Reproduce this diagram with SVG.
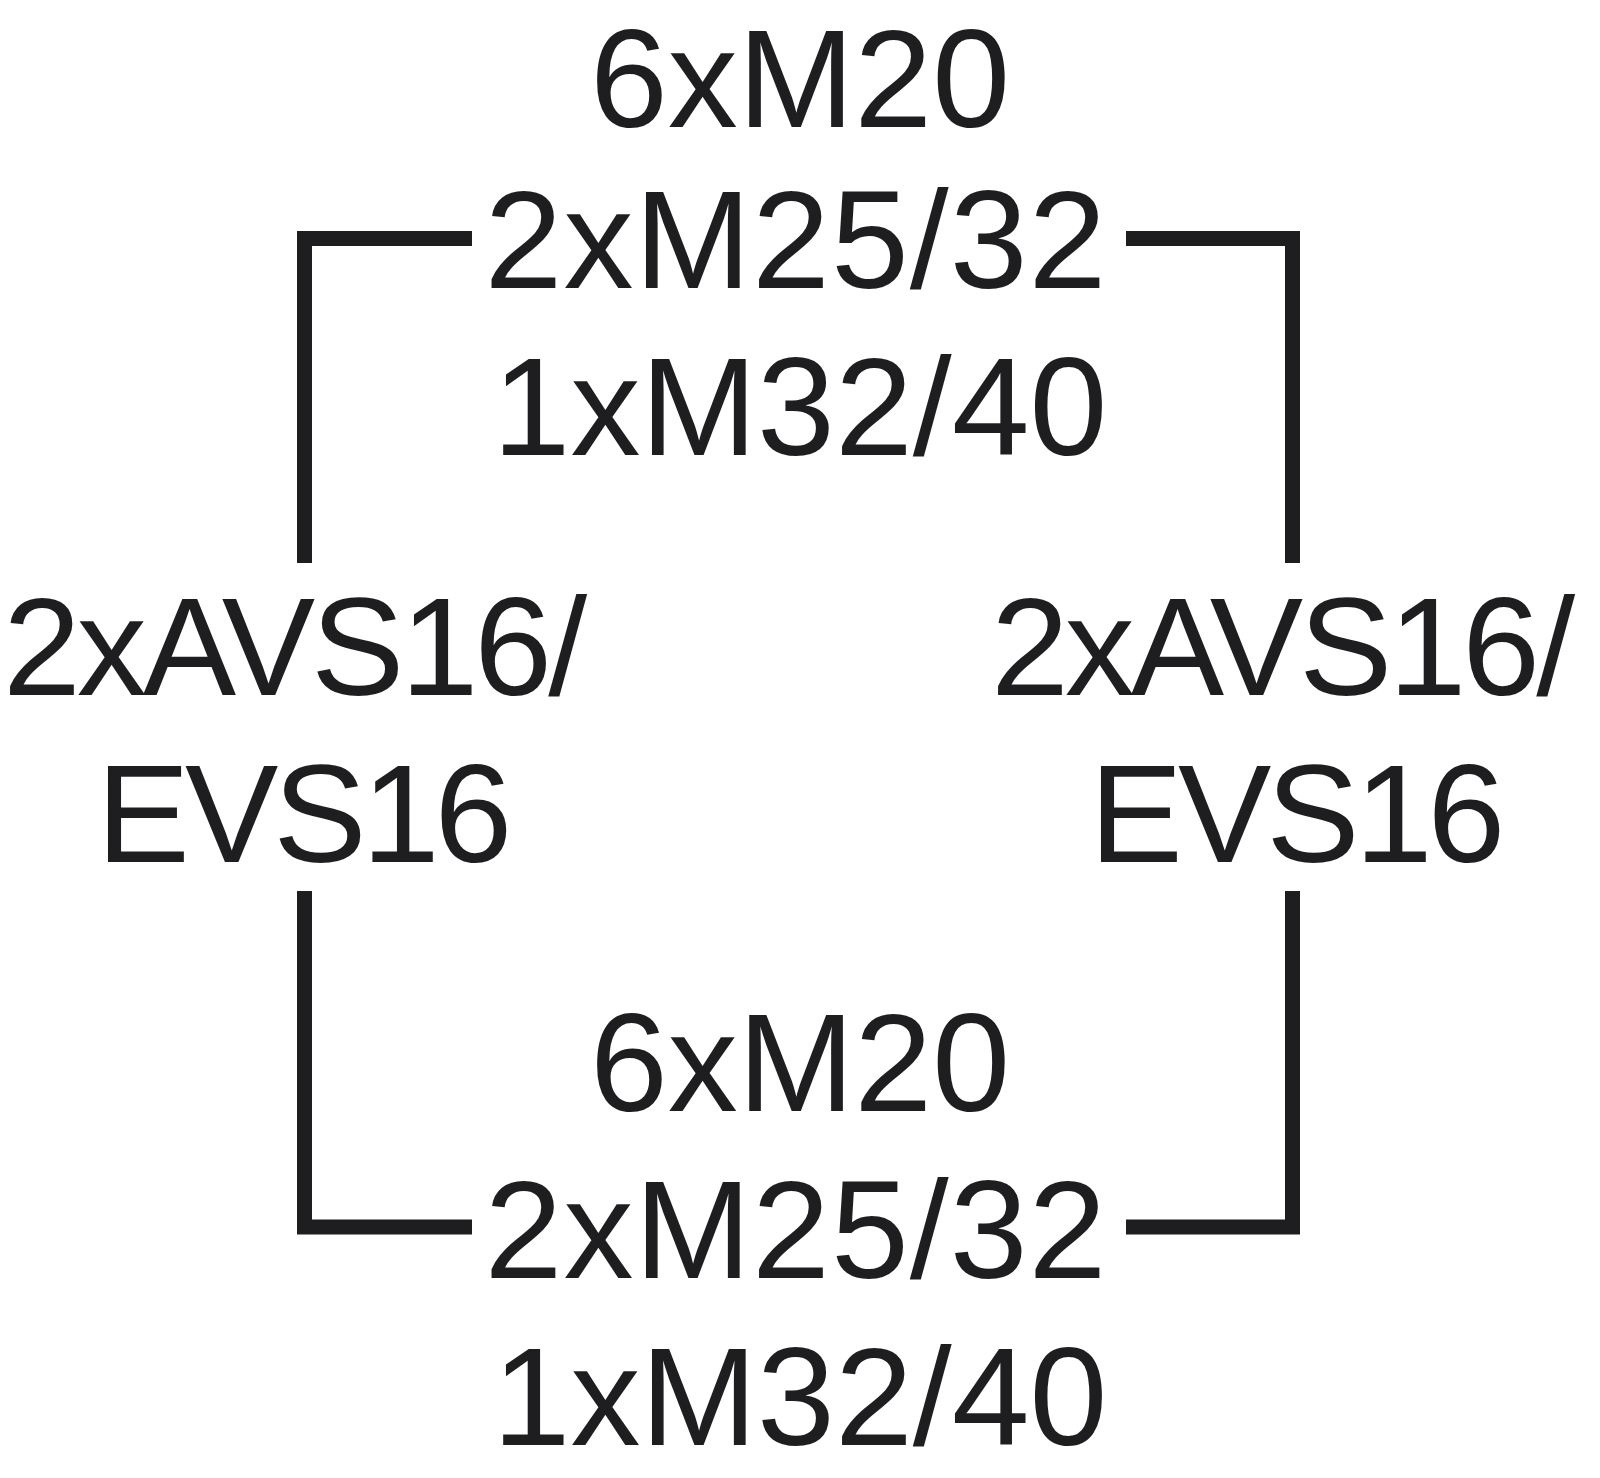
<svg xmlns="http://www.w3.org/2000/svg" width="1600" height="1478" viewBox="0 0 1600 1478">
<style>
.lbl{font-family:"Liberation Sans",Arial,Helvetica,sans-serif;font-size:140px;fill:#1e1e20;text-anchor:middle}
.s1{letter-spacing:-4px}
.s2{letter-spacing:-5px}
.conn{fill:none;stroke:#1e1e20;stroke-width:15;stroke-linejoin:miter;stroke-linecap:butt}
</style>
<rect width="1600" height="1478" fill="#ffffff"/>
<g id="connectors">
<polyline class="conn" points="472,238.5 304.5,238.5 304.5,563"/>
<polyline class="conn" points="1126,238.5 1292.5,238.5 1292.5,563"/>
<polyline class="conn" points="304.5,891 304.5,1227 472,1227"/>
<polyline class="conn" points="1292.5,891 1292.5,1227 1126,1227"/>
</g>
<g id="top">
<text class="lbl" x="800" y="127">6xM20</text>
<text class="lbl" x="796" y="288" style="letter-spacing:1px">2xM25/32</text>
<text class="lbl" x="800" y="455">1xM32/40</text>
</g>
<g id="left">
<text class="lbl s1" x="293" y="695">2xAVS16/</text>
<text class="lbl s2" x="302" y="862">EVS16</text>
</g>
<g id="right">
<text class="lbl s1" x="1281" y="695">2xAVS16/</text>
<text class="lbl s2" x="1295" y="862">EVS16</text>
</g>
<g id="bottom">
<text class="lbl" x="800" y="1111">6xM20</text>
<text class="lbl" x="796" y="1278" style="letter-spacing:1px">2xM25/32</text>
<text class="lbl" x="800" y="1445">1xM32/40</text>
</g>
</svg>
